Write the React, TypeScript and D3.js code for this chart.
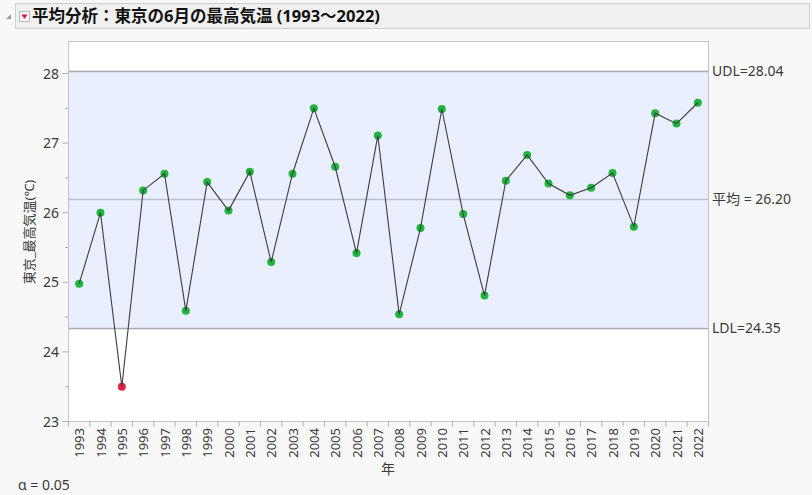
import React from "react";
import * as d3 from "d3";

const years: string[] = [
  "1993","1994","1995","1996","1997","1998","1999","2000","2001","2002",
  "2003","2004","2005","2006","2007","2008","2009","2010","2011","2012",
  "2013","2014","2015","2016","2017","2018","2019","2020","2021","2022",
];
const maxTemp: number[] = [
  24.98, 26.0, 23.5, 26.32, 26.56, 24.59, 26.44, 26.03, 26.59, 25.29,
  26.56, 27.5, 26.66, 25.42, 27.11, 24.54, 25.78, 27.49, 25.98, 24.81,
  26.46, 26.83, 26.42, 26.25, 26.36, 26.57, 25.8, 27.43, 27.28, 27.58,
];
const yTicks: number[] = [23, 24, 25, 26, 27, 28];
const yMinorTicks: number[] = [23.5, 24.5, 25.5, 26.5, 27.5];
const limits = { udl: 28.04, mean: 26.2, ldl: 24.35 };
const limitLabels: string[] = ["UDL=28.04", "平均 = 26.20", "LDL=24.35"];
const title = "平均分析：東京の6月の最高気温 (1993～2022)";
const yTitle = "東京_最高気温(℃)";
const xTitle = "年";
const alphaText = "α = 0.05";

const W = 812;
const H = 495;
const left = 68.5;
const right = 708.5;
const top = 41.5;
const bottom = 421.5;
const FONT = "'Noto Sans', 'Noto Sans CJK JP', sans-serif";
const TEXT = "#3a3a3a";

export default function App() {
  const x = d3.scaleBand<string>().domain(years).range([left, right]).padding(0);
  const y = d3.scaleLinear().domain([23, 28.46]).range([bottom, top]);
  const cx = (d: string) => (x(d) ?? 0) + x.bandwidth() / 2;
  const line = d3
    .line<number>()
    .x((_, i) => cx(years[i]))
    .y((d) => y(d));
  const limitVals = [limits.udl, limits.mean, limits.ldl];

  return (
    <div style={{ position: "absolute", left: 0, top: 0 }}>
      <svg width={W} height={H} style={{ display: "block", background: "#f8f8f8" }}>
        {/* title bar */}
        <rect x={15.5} y={3.5} width={794} height={25} fill="#f0f0f0" stroke="#cdcdcd" />
        <path d="M6,19 L11,14 L11,19 Z" fill="#9a9a9a" />
        <rect x={19.5} y={11.5} width={10} height={10} fill="#f6f6f6" stroke="#bbbbbb" />
        <path d="M21.5,14.5 L27.5,14.5 L24.5,19 Z" fill="#d8192e" />
        <text x={32} y={22} fontFamily={FONT} fontSize={16.5} fontWeight="bold" fill="#111">
          {title}
        </text>

        {/* plot area */}
        <rect x={left} y={top} width={right - left} height={bottom - top} fill="#ffffff" />
        <rect
          x={left}
          y={y(limits.udl)}
          width={right - left}
          height={y(limits.ldl) - y(limits.udl)}
          fill="#e9effe"
        />
        {limitVals.map((v, i) => (
          <line
            key={i}
            x1={left}
            x2={right}
            y1={Math.round(y(v)) + 0.5}
            y2={Math.round(y(v)) + 0.5}
            stroke={i === 1 ? "#b9bfcc" : "#a4a8b2"}
            strokeWidth={1.3}
          />
        ))}
        <rect x={left} y={top} width={right - left} height={bottom - top} fill="none" stroke="#c4c4c4" />

        {/* limit labels */}
        {limitVals.map((v, i) => (
          <text
            key={i}
            x={712}
            y={y(v) + 5}
            fontFamily={FONT}
            fontSize={14}
            fill={TEXT}
          >
            {limitLabels[i]}
          </text>
        ))}

        {/* y axis */}
        {yTicks.map((t) => (
          <g key={t}>
            <line x1={left - 6} x2={left} y1={y(t)} y2={y(t)} stroke="#b0b0b0" />
            <text
              x={59}
              y={y(t) + 5}
              textAnchor="end"
              fontFamily={FONT}
              fontSize={14}
              fill={TEXT}
            >
              {t}
            </text>
          </g>
        ))}
        {yMinorTicks.map((t) => (
          <line key={t} x1={left - 3.5} x2={left} y1={y(t)} y2={y(t)} stroke="#b0b0b0" />
        ))}
        <text
          transform={`translate(34,232) rotate(-90)`}
          textAnchor="middle"
          fontFamily={FONT}
          fontSize={13}
          fill={TEXT}
        >
          {yTitle}
        </text>

        {/* x axis */}
        {years.map((yr) => (
          <line
            key={"t" + yr}
            x1={(x(yr) ?? 0)}
            x2={(x(yr) ?? 0)}
            y1={bottom}
            y2={bottom + 5}
            stroke="#b0b0b0"
          />
        ))}
        <line x1={right} x2={right} y1={bottom} y2={bottom + 5} stroke="#b0b0b0" />
        {years.map((yr) => (
          <text
            key={"l" + yr}
            transform={`translate(${cx(yr) + 5},428) rotate(-90)`}
            textAnchor="end"
            fontFamily={FONT}
            fontSize={13}
            fill={TEXT}
          >
            {yr}
          </text>
        ))}
        <text x={388} y={474} textAnchor="middle" fontFamily={FONT} fontSize={14} fill={TEXT}>
          {xTitle}
        </text>

        {/* data */}
        {maxTemp.map((v, i) => (
          <circle
            key={i}
            cx={cx(years[i])}
            cy={y(v)}
            r={4}
            fill={v < limits.ldl || v > limits.udl ? "#e8213f" : "#1fb540"}
          />
        ))}
        <path d={line(maxTemp) ?? ""} fill="none" stroke="#3c3c3c" strokeWidth={1.1} />

        <text x={18} y={490} fontFamily={FONT} fontSize={14} fill={TEXT}>
          {alphaText}
        </text>
      </svg>
    </div>
  );
}
